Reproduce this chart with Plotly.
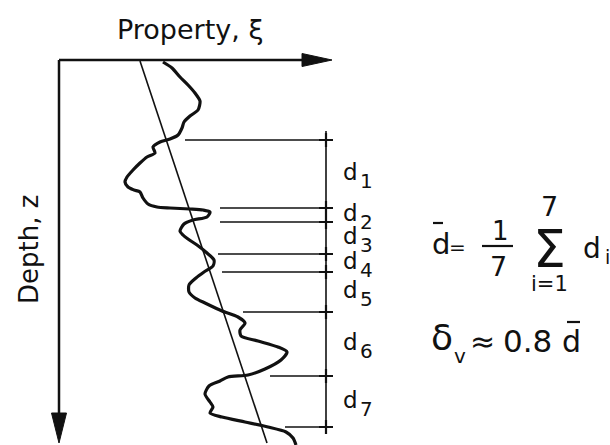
import numpy as np
import plotly.graph_objects as go


## Data (property to the right, depth downward; origin at the axis corner)
# measured property profile xi(z)
prop = [104, 113, 121, 129, 136, 141, 139, 131, 125, 123, 119, 111, 101, 94, 96, 88, 81, 74,
        68, 66, 69, 75, 81, 84, 89, 98, 111, 131, 144, 151, 148, 134, 125, 121, 124, 129,
        138, 148, 155, 154, 145, 137, 130, 130, 136, 146, 163, 179, 186, 181, 182, 199,
        219, 228, 222, 206, 189, 169, 161, 150, 146, 151, 154, 151, 163, 186, 209, 227,
        234, 237]
depth = [2, 8, 17, 25, 33, 41, 50, 56, 62, 68, 75, 79, 82, 87, 93, 97, 103, 110,
         117, 122, 127, 130, 132, 138, 144, 147, 148, 149, 150, 152, 157, 160, 164, 171, 175, 179,
         185, 193, 200, 206, 212, 218, 225, 232, 238, 243, 251, 257, 263, 270, 276, 281,
         287, 292, 300, 309, 315, 317, 321, 326, 334, 342, 347, 353, 357, 362, 367, 372,
         378, 385]

# linear trend
trend_prop = [81, 208]
trend_depth = [1, 383]

# crossings of the profile with the trend -> distances d1..d7
cross_depth = [80, 148, 162, 194, 212, 252, 316, 367]
cross_start = [126, 161, 161, 159, 163, 184, 211, 226]
dim_x = 267
dim_span = [71, 374]
d_names = ["1", "2", "3", "4", "5", "6", "7"]

# axis extents
axis_len_x = 273
axis_len_z = 383

INK = "#111111"
FONT = "DejaVu Sans"

fig = go.Figure()

# axes with arrowheads
fig.add_trace(go.Scatter(x=[0, axis_len_x - 20], y=[0, 0], mode="lines",
                         line=dict(color=INK, width=2.5)))
fig.add_trace(go.Scatter(x=[0, 0], y=[0, axis_len_z - 20], mode="lines",
                         line=dict(color=INK, width=2.5)))
hl, hw = 30, 6.5
fig.add_trace(go.Scatter(x=[axis_len_x, axis_len_x - hl, axis_len_x - hl, axis_len_x],
                         y=[0, -hw, hw, 0], fill="toself", fillcolor=INK,
                         mode="lines", line=dict(color=INK, width=1)))
fig.add_trace(go.Scatter(x=[0, -hw - 1, hw + 1, 0],
                         y=[axis_len_z, axis_len_z - hl, axis_len_z - hl, axis_len_z],
                         fill="toself", fillcolor=INK,
                         mode="lines", line=dict(color=INK, width=1)))

# trend line
fig.add_trace(go.Scatter(x=trend_prop, y=trend_depth, mode="lines",
                         line=dict(color=INK, width=1.6)))

# property profile
fig.add_trace(go.Scatter(x=prop, y=depth, mode="lines",
                         line=dict(color=INK, width=3.2, shape="spline", smoothing=0.7)))

# dimension lines
hx, hy = [], []
for z, s in zip(cross_depth, cross_start):
    hx += [s, dim_x + 5, None]
    hy += [z, z, None]
fig.add_trace(go.Scatter(x=hx, y=hy, mode="lines", line=dict(color=INK, width=1.6)))
fig.add_trace(go.Scatter(x=[dim_x, dim_x], y=dim_span, mode="lines",
                         line=dict(color=INK, width=1.6)))
fig.add_trace(go.Scatter(x=[dim_x] * len(cross_depth), y=cross_depth, mode="markers",
                         marker=dict(symbol="cross-thin", size=10,
                                     line=dict(color=INK, width=2.2))))

anns = []


def txt(t, x, y, size, **kw):
    anns.append(dict(text=t, x=x, y=y, xref="x", yref="y", showarrow=False,
                     font=dict(family=FONT, size=size, color=INK), **kw))


# axis titles
txt("Property, ξ", 131, -31, 27)
txt("Depth, z", -30, 190, 26, textangle=-90)

# d_i labels between crossings
for i, n in enumerate(d_names):
    mid = (cross_depth[i] + cross_depth[i + 1]) / 2
    txt("d", 291, mid - 2, 23)
    txt(n, 307, mid + 7, 20)

# d-bar = 1/7 sum d_i
txt("d", 382, 184, 29)
txt("=", 398, 187, 20)
txt("1", 441, 171, 26)
txt("7", 439, 206, 27)
txt("Σ", 490, 189, 52)
txt("7", 490, 146, 27)
txt("i=1", 490, 224, 21)
txt("d", 533, 188, 28)
txt("i", 548, 197, 19)

# delta_v ~ 0.8 d-bar
txt("δ", 383, 277, 36)
txt("v", 401, 296, 20)
txt("≈", 423, 281, 30)
txt("0.8", 468, 281, 31)
txt("d", 512, 281, 30)

bars = [(374, 384, 163), (423, 454, 186), (508, 521, 262)]
shapes = [dict(type="line", xref="x", yref="y", x0=a, x1=b, y0=c, y1=c,
               line=dict(color=INK, width=2.2)) for a, b, c in bars]

fig.update_layout(
    width=610, height=445,
    margin=dict(l=0, r=0, t=0, b=0),
    paper_bgcolor="white", plot_bgcolor="white",
    showlegend=False,
    xaxis=dict(range=[-59, 551], visible=False, fixedrange=True),
    yaxis=dict(range=[385, -60], visible=False, fixedrange=True),
    annotations=anns,
    shapes=shapes,
)

fig.write_html("out.html", config={"displayModeBar": False},
               post_script="document.body.style.margin='0';"
                           "document.body.style.overflow='hidden';")
